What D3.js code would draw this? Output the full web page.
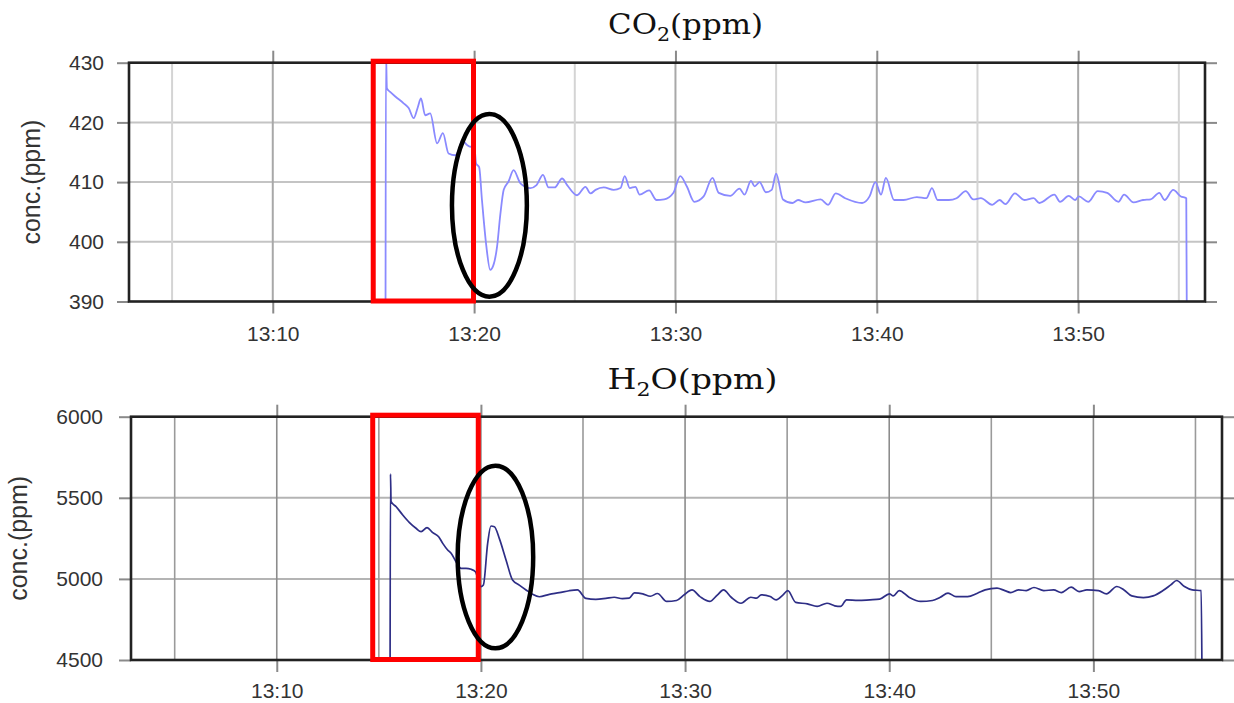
<!DOCTYPE html>
<html>
<head>
<meta charset="utf-8">
<script src="https://cdn.jsdelivr.net/npm/d3@7"></script>
<style>
  html, body { margin: 0; padding: 0; background: #fff; }
  svg { display: block; }
</style>
</head>
<body>
<svg id="chart" width="1234" height="703"></svg>
<script>
// Times are minutes after 13:00.
const timeDomain = [2.86, 56.3];

const co2Minutes = [15.60, 15.62, 15.67, 15.83, 16.10, 16.50, 16.75, 17.00, 17.20, 17.36, 17.57, 17.82,
  18.16, 18.45, 18.73, 19.07, 19.25, 19.40, 19.65, 19.81, 20.00, 20.10, 20.25, 20.39, 20.60, 20.80,
  20.95, 21.14, 21.30, 21.47, 21.71, 21.96, 22.30, 22.79, 23.10, 23.42, 23.70, 24.00, 24.37, 24.62,
  25.11, 25.53, 25.78, 26.03, 26.44, 26.93, 27.27, 27.48, 27.73, 28.01, 28.22, 28.69, 29.06, 29.44,
  29.90, 30.24, 30.56, 30.94, 31.40, 31.84, 32.15, 32.72, 33.18, 33.43, 33.75, 33.93, 34.18, 34.49,
  34.78, 35.00, 35.34, 35.81, 36.09, 36.46, 37.21, 37.58, 37.96, 38.43, 39.27, 39.64, 39.93, 40.21,
  40.45, 40.86, 41.33, 41.99, 42.46, 42.74, 43.02, 43.58, 43.96, 44.42, 44.79, 45.17, 45.73, 46.10,
  46.39, 46.86, 47.32, 47.79, 48.07, 48.82, 49.10, 49.53, 49.85, 50.03, 50.50, 50.97, 51.44, 52.00,
  52.28, 52.75, 53.22, 53.60, 54.03, 54.29, 54.72, 55.10, 55.37, 55.40];
const co2Values = [385, 432, 425.7, 425.1, 424.3, 423.2, 422.4, 420.7, 422.5, 424.0, 421.2, 421.5,
  416.5, 418.2, 414.8, 414.5, 415.5, 417.0, 416.2, 415.9, 416.4, 413.1, 412.5, 407.0, 399.5, 395.3,
  396.0, 399.2, 404.5, 408.7, 410.1, 412.0, 409.8, 409.0, 409.5, 411.2, 409.1, 409.1, 410.6, 409.5,
  407.8, 409.2, 408.1, 408.7, 409.1, 408.7, 409.0, 411.0, 409.0, 409.2, 407.9, 408.6, 407.0, 407.1,
  408.2, 411.0, 409.3, 406.7, 407.6, 410.7, 408.2, 407.7, 408.9, 407.9, 410.2, 409.3, 410.0, 408.3,
  408.7, 411.4, 407.1, 406.5, 407.0, 406.6, 407.1, 406.2, 408.1, 407.3, 406.5, 407.6, 410.0, 407.9,
  410.7, 407.0, 407.0, 407.5, 407.3, 409.0, 407.0, 407.0, 407.3, 408.5, 407.1, 407.3, 406.2, 407.0,
  406.3, 408.1, 407.0, 407.3, 406.5, 407.9, 406.7, 407.7, 407.0, 407.6, 406.7, 408.5, 408.2, 406.7,
  407.9, 406.6, 407.0, 407.1, 408.2, 407.0, 408.7, 407.6, 407.3, 385];

const h2oMinutes = [15.55, 15.57, 15.60, 15.85, 16.17, 16.50, 16.82, 17.07, 17.36, 17.64, 17.93, 18.13,
  18.37, 18.54, 18.78, 19.03, 19.27, 19.52, 19.73, 20.00, 20.12, 20.33, 20.49, 20.66, 20.90, 21.23,
  21.55, 21.88, 22.21, 22.53, 22.86, 23.35, 23.84, 24.32, 24.73, 25.14, 25.63, 26.12, 26.53, 26.93,
  27.26, 27.52, 27.93, 28.30, 28.65, 29.10, 29.58, 29.96, 30.34, 30.73, 31.21, 31.59, 31.88, 32.26,
  32.74, 33.22, 33.50, 33.73, 34.17, 34.46, 34.80, 35.03, 35.42, 35.99, 36.47, 36.95, 37.33, 37.62,
  37.91, 38.48, 39.05, 39.53, 40.01, 40.20, 40.49, 40.97, 41.54, 42.12, 42.50, 42.88, 43.27, 43.84,
  44.32, 44.70, 45.28, 45.66, 45.95, 46.33, 46.71, 47.09, 47.57, 48.05, 48.43, 48.91, 49.30, 49.68,
  50.25, 50.64, 51.15, 51.50, 51.88, 52.45, 52.93, 53.41, 53.79, 54.08, 54.46, 54.84, 55.28, 55.32];
const h2oValues = [4400, 5647, 5476, 5445, 5394, 5347, 5312, 5291, 5316, 5285, 5260, 5219,
  5178, 5158, 5106, 5065, 5065, 5059, 5044, 4952, 4962, 5219, 5326, 5322, 5250, 5117,
  4993, 4962, 4932, 4905, 4890, 4905, 4915, 4927, 4932, 4880, 4874, 4880, 4887, 4878,
  4881, 4914, 4908, 4893, 4910, 4861, 4867, 4902, 4932, 4891, 4861, 4902, 4932, 4887,
  4850, 4887, 4881, 4902, 4891, 4871, 4902, 4928, 4855, 4846, 4830, 4850, 4834, 4830,
  4871, 4867, 4871, 4875, 4908, 4895, 4928, 4887, 4861, 4867, 4887, 4912, 4891, 4891,
  4912, 4932, 4943, 4928, 4916, 4932, 4928, 4947, 4928, 4932, 4916, 4949, 4922, 4932,
  4928, 4908, 4953, 4932, 4895, 4885, 4895, 4928, 4963, 4990, 4953, 4932, 4928, 4400];

const co2Ticks = [390, 400, 410, 420, 430];
const h2oTicks = [4500, 5000, 5500, 6000];

// Highlighted interval [start, end] in minutes, and ring [centre min, centre value, half-width min, half-height value]
const co2Box = [14.99, 19.97];
const h2oBox = [14.70, 19.87];
const co2Ring = [20.76, 406.1, 1.86, 15.3];
const h2oRing = [20.71, 5135, 1.85, 563];

const T0 = new Date(2000, 0, 1, 13, 0, 0);
const toDate = m => new Date(T0.getTime() + m * 60000);

const svg = d3.select('#chart');

function drawPanel(cfg) {
  const g = svg.append('g');
  const x = d3.scaleTime()
    .domain([toDate(timeDomain[0]), toDate(timeDomain[1])])
    .range([cfg.left, cfg.right]);
  const y = d3.scaleLinear().domain(cfg.yDomain).range([cfg.bottom, cfg.top]);

  const fiveMin = d3.timeMinute.every(5).range(x.domain()[0], x.domain()[1]);
  const tenMin = fiveMin.filter(d => d.getMinutes() % 10 === 0);

  // grid
  g.append('g').selectAll('line').data(cfg.ticks.slice(1, -1)).join('line')
    .attr('x1', cfg.left).attr('x2', cfg.right)
    .attr('y1', d => y(d)).attr('y2', d => y(d))
    .attr('stroke', cfg.hGrid).attr('stroke-width', 2);
  g.append('g').selectAll('line').data(fiveMin).join('line')
    .attr('x1', d => x(d)).attr('x2', d => x(d))
    .attr('y1', cfg.top).attr('y2', cfg.bottom)
    .attr('stroke', d => d.getMinutes() % 10 === 0 ? cfg.vGridMajor : cfg.vGridMinor)
    .attr('stroke-width', cfg.vGridWidth);

  // trace
  const clipId = 'clip-' + cfg.id;
  svg.append('defs').append('clipPath').attr('id', clipId)
    .append('rect').attr('x', cfg.left).attr('y', cfg.top)
    .attr('width', cfg.right - cfg.left).attr('height', cfg.bottom - cfg.top);
  const pts = cfg.minutes.map((m, i) => [toDate(m), cfg.values[i]]);
  g.append('path').datum(pts)
    .attr('clip-path', `url(#${clipId})`)
    .attr('fill', 'none').attr('stroke', cfg.lineColor).attr('stroke-width', cfg.lineWidth)
    .attr('stroke-linejoin', 'round')
    .attr('d', d3.line().curve(d3.curveMonotoneX).x(d => x(d[0])).y(d => y(d[1])));

  // axes
  const fmt = d3.timeFormat('%H:%M');
  const axB = g.append('g').attr('transform', `translate(0,${cfg.bottom})`)
    .call(d3.axisBottom(x).tickValues(tenMin).tickFormat(fmt).tickSize(12).tickPadding(cfg.xPad));
  const axT = g.append('g').attr('transform', `translate(0,${cfg.top})`)
    .call(d3.axisTop(x).tickValues(tenMin).tickFormat('').tickSize(12));
  const axL = g.append('g').attr('transform', `translate(${cfg.left},0)`)
    .call(d3.axisLeft(y).tickValues(cfg.ticks).tickFormat(d3.format('d')).tickSize(12).tickPadding(cfg.yPad));
  const axR = g.append('g').attr('transform', `translate(${cfg.right},0)`)
    .call(d3.axisRight(y).tickValues(cfg.ticks).tickFormat('').tickSize(12));
  [axB, axT, axL, axR].forEach(a => {
    a.select('.domain').remove();
    a.selectAll('line').attr('stroke', '#8a8a8a').attr('stroke-width', 2);
    a.selectAll('text').attr('fill', '#333')
      .style('font-family', '"Liberation Sans", Arial, Helvetica, sans-serif')
      .style('font-size', '21px');
  });

  // frame
  g.append('rect').attr('x', cfg.left).attr('y', cfg.top)
    .attr('width', cfg.right - cfg.left).attr('height', cfg.bottom - cfg.top)
    .attr('fill', 'none').attr('stroke', '#222').attr('stroke-width', 2.6);

  // axis title
  g.append('text')
    .attr('transform', `translate(${cfg.yTitleX},${(cfg.top + cfg.bottom) / 2}) rotate(-90)`)
    .attr('text-anchor', 'middle').attr('fill', '#333')
    .style('font-family', '"Liberation Sans", Arial, Helvetica, sans-serif')
    .style('font-size', '25px')
    .text('conc.(ppm)');

  // panel title with subscript
  const title = g.append('text')
    .attr('text-anchor', 'middle').attr('fill', '#111')
    .style('font-family', '"DejaVu Serif", "Liberation Serif", serif')
    .style('font-size', '27px');
  title.append('tspan').text(cfg.title[0]);
  title.append('tspan').text(cfg.title[1]).style('font-size', '18px').attr('dy', 7);
  title.append('tspan').text(cfg.title[2]).attr('dy', -7);
  const w = title.node().getComputedTextLength();
  title.attr('transform', `translate(${cfg.titleX},${cfg.titleY}) scale(${cfg.titleWidth / w},1)`);

  // highlighted interval
  g.append('rect')
    .attr('x', x(toDate(cfg.box[0]))).attr('y', cfg.top - 1.5)
    .attr('width', x(toDate(cfg.box[1])) - x(toDate(cfg.box[0])))
    .attr('height', cfg.bottom - cfg.top + 1)
    .attr('fill', 'none').attr('stroke', '#ff0000').attr('stroke-width', 5);

  // ring around the excursion
  const r = cfg.ring;
  g.append('ellipse')
    .attr('cx', x(toDate(r[0]))).attr('cy', y(r[1]))
    .attr('rx', x(toDate(r[0] + r[2])) - x(toDate(r[0])))
    .attr('ry', y(r[1] - r[3]) - y(r[1]))
    .attr('fill', 'none').attr('stroke', '#000').attr('stroke-width', 4.5);
}

drawPanel({
  id: 'co2', left: 129, right: 1205, top: 62.7, bottom: 301.5,
  yDomain: [390, 430], ticks: co2Ticks,
  minutes: co2Minutes, values: co2Values, lineColor: '#8a8aff', lineWidth: 1.8,
  hGrid: '#c4c4c4', vGridMajor: '#a8a8a8', vGridMinor: '#d4d4d4', vGridWidth: 2,
  xPad: 13, yPad: 13, yTitleX: 40,
  title: ['CO', '2', '(ppm)'], titleX: 685.5, titleY: 34, titleWidth: 155,
  box: co2Box, ring: co2Ring
});

drawPanel({
  id: 'h2o', left: 131, right: 1222, top: 416.7, bottom: 660,
  yDomain: [4500, 6000], ticks: h2oTicks,
  minutes: h2oMinutes, values: h2oValues, lineColor: '#2e2e86', lineWidth: 1.7,
  hGrid: '#b4b4b4', vGridMajor: '#8c8c8c', vGridMinor: '#9a9a9a', vGridWidth: 1.6,
  xPad: 11, yPad: 16, yTitleX: 27,
  title: ['H', '2', 'O(ppm)'], titleX: 692.5, titleY: 389, titleWidth: 170,
  box: h2oBox, ring: h2oRing
});
</script>
</body>
</html>
